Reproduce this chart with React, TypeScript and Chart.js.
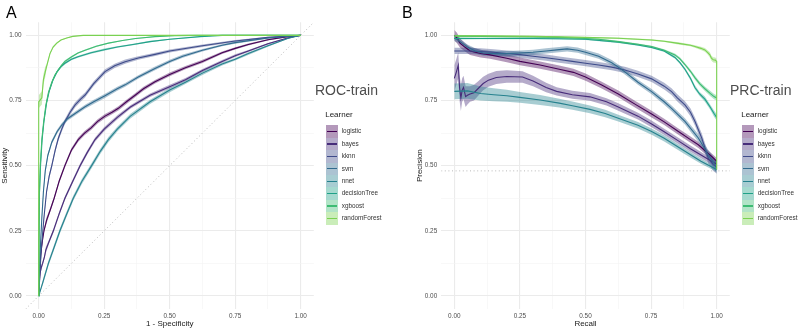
import React, { useEffect, useRef } from "react";
import { Chart, registerables } from "chart.js";

Chart.register(...registerables);

// [x, y, half-width of the confidence band]
type Pt = [number, number, number];

const FONT = '"Liberation Sans", Arial, Helvetica, sans-serif';

const learners = ["logistic", "bayes", "kknn", "svm", "nnet", "decisionTree", "xgboost", "randomForest"];
const learnerColors = ["#440154", "#472C7A", "#3E4B8A", "#306A8E", "#26828E", "#1FA188", "#3EBC73", "#7AD151"];

const gridValues = [0, 0.125, 0.25, 0.375, 0.5, 0.625, 0.75, 0.875, 1];
const axisMin = -0.05;
const axisMax = 1.05;
const prcBaseline = 0.48;

// ---- ROC (train): [1 - specificity, sensitivity, band] ----
const rocLogistic: Pt[] = [
  [0, 0, 0], [0.004, 0.09, 0.012], [0.008, 0.16, 0.012], [0.014, 0.21, 0.008], [0.02, 0.25, 0.008],
  [0.03, 0.29, 0.012], [0.044, 0.33, 0.008], [0.059, 0.375, 0.008], [0.078, 0.44, 0.008], [0.1, 0.5, 0.008],
  [0.125, 0.56, 0.008], [0.151, 0.6, 0.008], [0.175, 0.625, 0.008], [0.2, 0.645, 0.008], [0.225, 0.67, 0.008],
  [0.253, 0.69, 0.008], [0.28, 0.705, 0.008], [0.304, 0.72, 0.008], [0.335, 0.745, 0.008], [0.368, 0.77, 0.008],
  [0.4, 0.795, 0.008], [0.444, 0.822, 0.007], [0.5, 0.85, 0.007], [0.56, 0.876, 0.006], [0.625, 0.9, 0.006],
  [0.7, 0.933, 0.005], [0.75, 0.95, 0.004], [0.8, 0.965, 0.004], [0.875, 0.983, 0.003], [0.95, 0.995, 0.002],
  [1, 1, 0],
];
const rocBayes: Pt[] = [
  [0, 0, 0], [0.005, 0.087, 0.012], [0.01, 0.11, 0.01], [0.015, 0.125, 0.008], [0.022, 0.15, 0.008],
  [0.027, 0.176, 0.012], [0.04, 0.21, 0.008], [0.056, 0.25, 0.008], [0.078, 0.315, 0.008], [0.1, 0.375, 0.008],
  [0.13, 0.44, 0.008], [0.158, 0.5, 0.008], [0.185, 0.55, 0.008], [0.215, 0.6, 0.008], [0.25, 0.64, 0.008],
  [0.3, 0.685, 0.008], [0.35, 0.725, 0.007], [0.425, 0.77, 0.007], [0.5, 0.803, 0.007], [0.56, 0.83, 0.006],
  [0.625, 0.865, 0.006], [0.7, 0.9, 0.005], [0.75, 0.922, 0.005], [0.8, 0.94, 0.004], [0.875, 0.968, 0.003],
  [0.95, 0.99, 0.002], [1, 1, 0],
];
const rocKknn: Pt[] = [
  [0, 0, 0], [0.004, 0.08, 0.01], [0.01, 0.18, 0.01], [0.02, 0.3, 0.01], [0.03, 0.4, 0.01],
  [0.04, 0.46, 0.01], [0.05, 0.5, 0.01], [0.063, 0.56, 0.01], [0.075, 0.605, 0.01], [0.088, 0.64, 0.01],
  [0.1, 0.669, 0.01], [0.12, 0.705, 0.01], [0.139, 0.733, 0.01], [0.16, 0.755, 0.01], [0.177, 0.771, 0.01],
  [0.21, 0.815, 0.009], [0.253, 0.861, 0.009], [0.29, 0.883, 0.008], [0.33, 0.899, 0.008], [0.38, 0.913, 0.007],
  [0.444, 0.927, 0.006], [0.5, 0.94, 0.006], [0.625, 0.96, 0.005], [0.75, 0.978, 0.004], [0.875, 0.992, 0.003],
  [1, 1, 0],
];
const rocSvm: Pt[] = [
  [0, 0, 0], [0.003, 0.09, 0.012], [0.007, 0.2, 0.012], [0.012, 0.3, 0.01], [0.018, 0.4, 0.012],
  [0.025, 0.48, 0.01], [0.035, 0.54, 0.008], [0.05, 0.59, 0.008], [0.07, 0.63, 0.008], [0.088, 0.656, 0.008],
  [0.11, 0.68, 0.008], [0.139, 0.7, 0.008], [0.177, 0.726, 0.008], [0.21, 0.745, 0.008], [0.253, 0.768, 0.008],
  [0.3, 0.795, 0.008], [0.33, 0.81, 0.007], [0.38, 0.84, 0.007], [0.444, 0.873, 0.007], [0.5, 0.9, 0.006],
  [0.55, 0.92, 0.006], [0.625, 0.943, 0.005], [0.7, 0.962, 0.004], [0.75, 0.972, 0.004], [0.875, 0.99, 0.003],
  [1, 1, 0],
];
const rocNnet: Pt[] = [
  [0, 0, 0], [0.018, 0.06, 0.01], [0.037, 0.125, 0.01], [0.06, 0.19, 0.01], [0.081, 0.25, 0.01],
  [0.105, 0.31, 0.01], [0.132, 0.375, 0.01], [0.165, 0.44, 0.01], [0.202, 0.5, 0.01], [0.235, 0.555, 0.01],
  [0.266, 0.6, 0.01], [0.3, 0.64, 0.009], [0.35, 0.69, 0.009], [0.425, 0.745, 0.008], [0.5, 0.79, 0.008],
  [0.56, 0.82, 0.007], [0.625, 0.855, 0.007], [0.7, 0.89, 0.006], [0.75, 0.908, 0.005], [0.8, 0.93, 0.005],
  [0.875, 0.96, 0.004], [0.95, 0.988, 0.002], [1, 1, 0],
];
const rocDecisionTree: Pt[] = [
  [0, 0, 0], [0.001, 0.2, 0.005], [0.003, 0.4, 0.005], [0.007, 0.5, 0.005], [0.013, 0.6, 0.005],
  [0.02, 0.67, 0.005], [0.03, 0.74, 0.005], [0.04, 0.785, 0.005], [0.055, 0.83, 0.005], [0.07, 0.86, 0.005],
  [0.085, 0.88, 0.005], [0.1, 0.893, 0.005], [0.125, 0.908, 0.004], [0.15, 0.918, 0.004], [0.2, 0.933, 0.004],
  [0.25, 0.945, 0.004], [0.3, 0.955, 0.003], [0.36, 0.965, 0.003], [0.425, 0.976, 0.003], [0.5, 0.985, 0.002],
  [0.616, 0.995, 0.001], [0.7, 1, 0], [1, 1, 0],
];
const rocXgboost: Pt[] = [
  [0, 0, 0], [0.001, 0.2, 0.005], [0.003, 0.4, 0.005], [0.006, 0.5, 0.005], [0.012, 0.6, 0.005],
  [0.018, 0.66, 0.005], [0.027, 0.73, 0.005], [0.037, 0.78, 0.005], [0.05, 0.82, 0.005], [0.062, 0.848, 0.005],
  [0.075, 0.868, 0.004], [0.088, 0.886, 0.004], [0.1, 0.9, 0.004], [0.126, 0.918, 0.004], [0.15, 0.932, 0.003],
  [0.177, 0.943, 0.003], [0.22, 0.958, 0.003], [0.266, 0.97, 0.002], [0.32, 0.98, 0.002], [0.37, 0.988, 0.002],
  [0.444, 0.995, 0.001], [0.52, 0.999, 0.001], [0.6, 1, 0], [1, 1, 0],
];
const rocRandomForest: Pt[] = [
  [0, 0, 0], [0, 0.745, 0.025], [0.012, 0.76, 0.025], [0.018, 0.83, 0.02], [0.025, 0.86, 0.02],
  [0.03, 0.88, 0.008], [0.043, 0.93, 0.005], [0.055, 0.955, 0.004], [0.069, 0.97, 0.003], [0.085, 0.982, 0.002],
  [0.107, 0.99, 0.002], [0.13, 0.996, 0.001], [0.17, 1, 0], [1, 1, 0],
];

// ---- PRC (train): [recall, precision, band] ----
const prcLogistic: Pt[] = [
  [0, 1.0, 0.02], [0.01, 0.99, 0.02], [0.022, 0.97, 0.018], [0.04, 0.955, 0.016], [0.06, 0.94, 0.015],
  [0.1, 0.93, 0.015], [0.136, 0.925, 0.015], [0.2, 0.912, 0.015], [0.25, 0.9, 0.015], [0.327, 0.886, 0.014],
  [0.4, 0.87, 0.014], [0.454, 0.858, 0.014], [0.5, 0.84, 0.014], [0.56, 0.81, 0.013], [0.625, 0.775, 0.013],
  [0.69, 0.735, 0.013], [0.752, 0.698, 0.013], [0.8, 0.668, 0.012], [0.854, 0.631, 0.012], [0.9, 0.6, 0.012],
  [0.93, 0.58, 0.012], [0.98, 0.536, 0.012], [1, 0.517, 0.012],
];
const prcBayes: Pt[] = [
  [0, 0.835, 0.05], [0.008, 0.86, 0.05], [0.015, 0.885, 0.05], [0.02, 0.8, 0.05], [0.025, 0.76, 0.05],
  [0.03, 0.79, 0.045], [0.035, 0.8, 0.045], [0.043, 0.765, 0.04], [0.05, 0.77, 0.035], [0.06, 0.775, 0.03],
  [0.075, 0.78, 0.03], [0.09, 0.795, 0.028], [0.11, 0.815, 0.026], [0.13, 0.828, 0.025], [0.16, 0.838, 0.025],
  [0.2, 0.842, 0.024], [0.26, 0.84, 0.022], [0.3, 0.825, 0.02], [0.35, 0.8, 0.018], [0.39, 0.785, 0.016],
  [0.45, 0.772, 0.015], [0.517, 0.764, 0.015], [0.58, 0.745, 0.014], [0.625, 0.725, 0.014], [0.7, 0.69, 0.013],
  [0.752, 0.66, 0.013], [0.8, 0.63, 0.012], [0.854, 0.595, 0.012], [0.9, 0.565, 0.012], [0.95, 0.535, 0.012],
  [1, 0.505, 0.012],
];
const prcKknn: Pt[] = [
  [0, 0.94, 0.012], [0.05, 0.94, 0.012], [0.1, 0.938, 0.012], [0.15, 0.935, 0.012], [0.2, 0.93, 0.012],
  [0.25, 0.926, 0.012], [0.3, 0.92, 0.012], [0.35, 0.914, 0.012], [0.4, 0.907, 0.012], [0.45, 0.9, 0.012],
  [0.5, 0.893, 0.012], [0.55, 0.886, 0.012], [0.6, 0.878, 0.012], [0.65, 0.867, 0.012], [0.7, 0.852, 0.012],
  [0.752, 0.833, 0.012], [0.8, 0.805, 0.013], [0.828, 0.784, 0.013], [0.85, 0.76, 0.014], [0.879, 0.733, 0.014],
  [0.9, 0.705, 0.015], [0.917, 0.67, 0.016], [0.943, 0.606, 0.018], [0.968, 0.529, 0.02], [0.987, 0.504, 0.025],
  [1, 0.495, 0.025],
];
const prcSvm: Pt[] = [
  [0, 0.99, 0.012], [0.01, 0.985, 0.012], [0.03, 0.97, 0.01], [0.05, 0.955, 0.01], [0.08, 0.94, 0.01],
  [0.11, 0.932, 0.01], [0.15, 0.93, 0.01], [0.2, 0.93, 0.01], [0.25, 0.932, 0.01], [0.3, 0.935, 0.01],
  [0.35, 0.94, 0.01], [0.4, 0.945, 0.01], [0.43, 0.948, 0.01], [0.47, 0.943, 0.01], [0.5, 0.935, 0.01],
  [0.55, 0.92, 0.01], [0.6, 0.895, 0.01], [0.625, 0.878, 0.01], [0.65, 0.86, 0.01], [0.7, 0.82, 0.01],
  [0.752, 0.784, 0.01], [0.8, 0.745, 0.011], [0.828, 0.72, 0.011], [0.879, 0.67, 0.012], [0.93, 0.606, 0.014],
  [0.968, 0.542, 0.018], [0.993, 0.504, 0.022], [1, 0.49, 0.022],
];
const prcNnet: Pt[] = [
  [0, 0.785, 0.03], [0.05, 0.787, 0.03], [0.1, 0.777, 0.027], [0.15, 0.772, 0.025], [0.2, 0.768, 0.023],
  [0.25, 0.762, 0.021], [0.327, 0.752, 0.019], [0.4, 0.74, 0.017], [0.45, 0.73, 0.016], [0.517, 0.716, 0.015],
  [0.575, 0.7, 0.014], [0.625, 0.682, 0.013], [0.7, 0.655, 0.012], [0.752, 0.631, 0.012], [0.8, 0.605, 0.012],
  [0.879, 0.555, 0.011], [0.94, 0.517, 0.01], [1, 0.485, 0.008],
];
const prcDecisionTree: Pt[] = [
  [0, 0.988, 0.004], [0.1, 0.988, 0.003], [0.2, 0.988, 0.003], [0.3, 0.988, 0.003], [0.4, 0.987, 0.003],
  [0.5, 0.985, 0.003], [0.625, 0.974, 0.003], [0.7, 0.963, 0.003], [0.752, 0.953, 0.003], [0.8, 0.94, 0.004],
  [0.841, 0.915, 0.005], [0.86, 0.895, 0.005], [0.879, 0.87, 0.006], [0.9, 0.835, 0.007], [0.917, 0.8, 0.008],
  [0.935, 0.775, 0.008], [0.955, 0.755, 0.01], [0.975, 0.725, 0.01], [0.99, 0.7, 0.012], [1, 0.685, 0.012],
];
const prcXgboost: Pt[] = [
  [0, 0.997, 0.005], [0.1, 0.996, 0.003], [0.2, 0.995, 0.003], [0.3, 0.994, 0.003], [0.4, 0.992, 0.003],
  [0.5, 0.988, 0.003], [0.55, 0.985, 0.003], [0.625, 0.976, 0.003], [0.7, 0.966, 0.003], [0.752, 0.957, 0.003],
  [0.8, 0.943, 0.004], [0.841, 0.925, 0.005], [0.86, 0.91, 0.006], [0.879, 0.888, 0.006], [0.9, 0.862, 0.007],
  [0.917, 0.838, 0.008], [0.935, 0.815, 0.008], [0.955, 0.795, 0.009], [0.975, 0.777, 0.01], [0.99, 0.765, 0.01],
  [1, 0.76, 0.01],
];
const prcRandomForest: Pt[] = [
  [0, 0.998, 0.003], [0.1, 0.998, 0.002], [0.2, 0.997, 0.002], [0.3, 0.996, 0.002], [0.4, 0.994, 0.002],
  [0.498, 0.992, 0.002], [0.625, 0.989, 0.003], [0.752, 0.982, 0.003], [0.8, 0.977, 0.003], [0.854, 0.969, 0.004],
  [0.9, 0.962, 0.004], [0.917, 0.957, 0.005], [0.94, 0.95, 0.006], [0.955, 0.944, 0.007], [0.965, 0.935, 0.008],
  [0.974, 0.925, 0.01], [0.98, 0.912, 0.01], [0.987, 0.906, 0.01], [0.995, 0.905, 0.01], [1, 0.9, 0.01],
  [1, 0.485, 0],
];

const rocCurves = [rocLogistic, rocBayes, rocKknn, rocSvm, rocNnet, rocDecisionTree, rocXgboost, rocRandomForest];
const prcCurves = [prcLogistic, prcBayes, prcKknn, prcSvm, prcNnet, prcDecisionTree, prcXgboost, prcRandomForest];

function withAlpha(hex: string, a: number) {
  const n = parseInt(hex.slice(1), 16);
  return `rgba(${(n >> 16) & 255},${(n >> 8) & 255},${n & 255},${a})`;
}

const isMajor = (v: number) => Math.abs(v * 4 - Math.round(v * 4)) < 1e-6;

interface PanelProps {
  left: number;
  curves: Pt[][];
  guide: { x: number; y: number }[];
  xTitle: string;
  yTitle: string;
  padLeft: number;
  padRight: number;
  yAxisWidth: number;
}

function Panel({ left, curves, guide, xTitle, yTitle, padLeft, padRight, yAxisWidth }: PanelProps) {
  const ref = useRef<HTMLCanvasElement | null>(null);

  useEffect(() => {
    if (!ref.current) return;
    const datasets: any[] = [];
    // lines (on top; later learners above earlier ones)
    curves.forEach((c, i) => {
      datasets.push({
        data: c.map((p) => ({ x: p[0], y: p[1] })),
        borderColor: learnerColors[i],
        borderWidth: 1.1,
        pointRadius: 0,
        fill: false,
        order: 20 - i,
      });
    });
    // confidence ribbons
    curves.forEach((c, i) => {
      const lowerIndex = datasets.length;
      datasets.push({
        data: c.map((p) => ({ x: p[0], y: p[1] - p[2] })),
        borderColor: "rgba(0,0,0,0)",
        borderWidth: 0,
        pointRadius: 0,
        fill: false,
        order: 60 - i,
      });
      datasets.push({
        data: c.map((p) => ({ x: p[0], y: p[1] + p[2] })),
        borderColor: "rgba(0,0,0,0)",
        borderWidth: 0,
        pointRadius: 0,
        fill: lowerIndex,
        backgroundColor: withAlpha(learnerColors[i], 0.4),
        order: 40 - i,
      });
    });
    // reference line (chance / baseline)
    datasets.push({
      data: guide,
      borderColor: "#A8A8A8",
      borderWidth: 0.8,
      borderDash: [1, 2.6],
      pointRadius: 0,
      fill: false,
      order: 100,
    });

    const gridColor = (ctx: any) => (ctx.tick && isMajor(ctx.tick.value) ? "#EBEBEB" : "#F3F3F3");
    const gridWidth = (ctx: any) => (ctx.tick && isMajor(ctx.tick.value) ? 1.1 : 0.6);
    const tickLabel = (v: any) => (isMajor(Number(v)) ? Number(v).toFixed(2) : "");
    const setTicks = (s: any) => {
      s.ticks = gridValues.map((v) => ({ value: v }));
    };

    const chart = new Chart(ref.current, {
      type: "line",
      data: { datasets },
      options: {
        animation: false,
        responsive: false,
        events: [],
        layout: { padding: { left: padLeft, right: padRight, top: 22.3, bottom: 0 } },
        plugins: { legend: { display: false }, tooltip: { enabled: false } },
        scales: {
          x: {
            type: "linear",
            min: axisMin,
            max: axisMax,
            afterBuildTicks: setTicks,
            afterFit: (s: any) => {
              s.height = 20;
            },
            grid: { color: gridColor, lineWidth: gridWidth, drawTicks: false },
            border: { display: false },
            ticks: {
              autoSkip: false,
              maxRotation: 0,
              padding: 3,
              color: "#4D4D4D",
              font: { family: FONT, size: 6.4 },
              callback: tickLabel,
            },
            title: { display: true, text: xTitle, color: "#1A1A1A", font: { family: FONT, size: 8 }, padding: 0 },
          },
          y: {
            type: "linear",
            min: axisMin,
            max: axisMax,
            afterBuildTicks: setTicks,
            afterFit: (s: any) => {
              s.width = yAxisWidth;
            },
            grid: { color: gridColor, lineWidth: gridWidth, drawTicks: false },
            border: { display: false },
            ticks: {
              autoSkip: false,
              padding: 4,
              color: "#4D4D4D",
              font: { family: FONT, size: 6.4 },
              callback: tickLabel,
            },
            title: { display: true, text: yTitle, color: "#1A1A1A", font: { family: FONT, size: 8 }, padding: 0 },
          },
        },
      } as any,
    });
    return () => chart.destroy();
  }, []);

  return (
    <canvas
      ref={ref}
      width={399}
      height={329}
      style={{ position: "absolute", left, top: 0, width: 399, height: 329 }}
    />
  );
}

function Legend({ left, top, title }: { left: number; top: number; title: string }) {
  const keyTop = top + 10.4;
  const rowH = 12.4;
  return (
    <>
      <div
        style={{
          position: "absolute",
          left: left - 0.5,
          top: top - 4,
          fontSize: 8,
          lineHeight: "8px",
          color: "#1A1A1A",
          whiteSpace: "nowrap",
        }}
      >
        {title}
      </div>
      {learners.map((name, i) => (
        <React.Fragment key={name}>
          <div
            style={{
              position: "absolute",
              left,
              top: keyTop + i * rowH,
              width: 12.4,
              height: rowH,
              background: withAlpha(learnerColors[i], 0.4),
            }}
          />
          <div
            style={{
              position: "absolute",
              left: left + 1,
              top: keyTop + i * rowH + rowH / 2 - 0.55,
              width: 10.4,
              height: 1.1,
              background: learnerColors[i],
            }}
          />
          <div
            style={{
              position: "absolute",
              left: left + 16,
              top: keyTop + i * rowH + rowH / 2 - 3.2,
              fontSize: 6.4,
              lineHeight: "6.4px",
              color: "#333333",
              whiteSpace: "nowrap",
            }}
          >
            {name}
          </div>
        </React.Fragment>
      ))}
    </>
  );
}

function Text({ left, top, size, color, children }: { left: number; top: number; size: number; color: string; children: string }) {
  return (
    <div
      style={{
        position: "absolute",
        left,
        top,
        fontSize: size,
        lineHeight: `${size}px`,
        color,
        whiteSpace: "nowrap",
      }}
    >
      {children}
    </div>
  );
}

export default function App() {
  const diagonal = [
    { x: axisMin, y: axisMin },
    { x: axisMax, y: axisMax },
  ];
  const baseline = [
    { x: axisMin, y: prcBaseline },
    { x: axisMax, y: prcBaseline },
  ];
  return (
    <div
      style={{
        position: "fixed",
        left: 0,
        top: 0,
        width: 798,
        height: 329,
        background: "#ffffff",
        fontFamily: FONT,
        overflow: "hidden",
      }}
    >
      <Panel
        left={0}
        curves={rocCurves}
        guide={diagonal}
        xTitle="1 - Specificity"
        yTitle="Sensitivity"
        padLeft={0}
        padRight={85.2}
        yAxisWidth={25.6}
      />
      <Panel
        left={399}
        curves={prcCurves}
        guide={baseline}
        xTitle="Recall"
        yTitle="Precision"
        padLeft={16.2}
        padRight={68.2}
        yAxisWidth={26}
      />
      <Text left={6} top={5} size={16} color="#000000">A</Text>
      <Text left={402} top={5} size={16} color="#000000">B</Text>
      <Text left={315} top={83} size={14} color="#4D4D4D">ROC-train</Text>
      <Text left={730} top={83} size={14} color="#4D4D4D">PRC-train</Text>
      <Legend left={325.7} top={115} title="Learner" />
      <Legend left={741.7} top={115} title="Learner" />
    </div>
  );
}
